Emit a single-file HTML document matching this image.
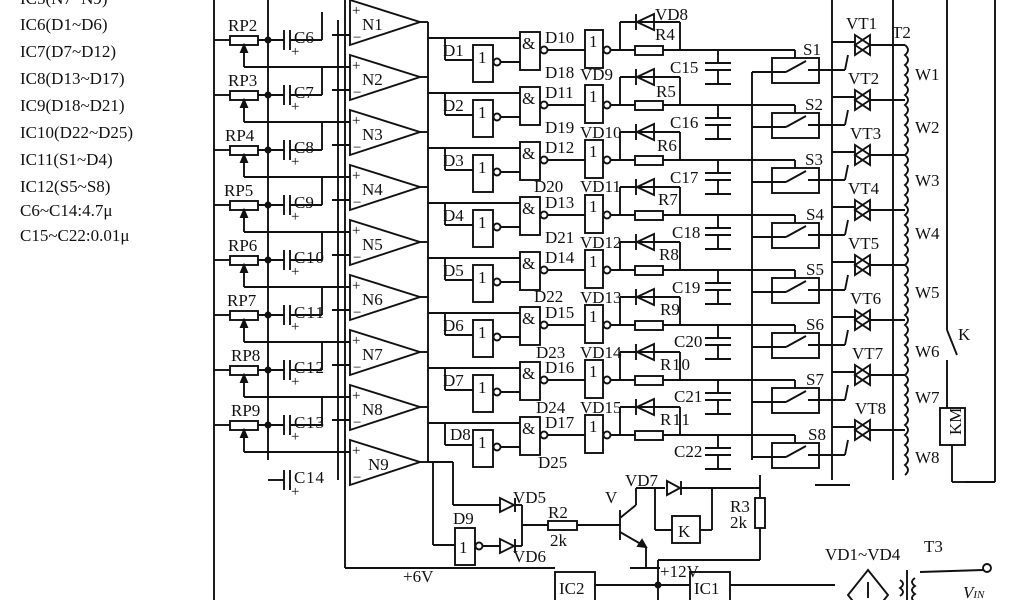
<!DOCTYPE html>
<html><head><meta charset="utf-8"><style>
body{margin:0;background:#fff;width:1024px;height:600px;overflow:hidden}
svg{display:block}
text{font-family:"Liberation Serif",serif;fill:#111;stroke:none}
.l{font-size:17px}
</style></head><body>
<svg width="1024" height="600" viewBox="0 0 1024 600" stroke="#111" stroke-width="1.9" fill="none">
<defs>
<g id="stage">
 <line x1="214" y1="40" x2="230" y2="40"/>
 <rect x="230" y="36" width="28" height="9"/>
 <line x1="258" y1="40" x2="284" y2="40"/>
 <circle cx="268" cy="40" r="2.5" fill="#111"/>
 <line x1="244" y1="60" x2="244" y2="46"/>
 <polygon points="244,45 241,52 247,52" fill="#111"/>
 <line x1="244" y1="60" x2="244" y2="67"/><line x1="244" y1="67" x2="350" y2="67"/>
 <line x1="284" y1="30" x2="284" y2="50"/><line x1="290" y1="30" x2="290" y2="50"/>
 <line x1="290" y1="40" x2="322" y2="40"/><line x1="322" y1="40" x2="322" y2="12"/>
 <line x1="332" y1="35" x2="350" y2="35"/>
 <text x="291" y="56" font-size="15">+</text>
</g>
<g id="amp">
 <polygon points="350,0 350,45 420,22"/>
 <line x1="420" y1="22" x2="428" y2="22"/>
 <text x="352" y="15" font-size="15">+</text><text x="353" y="42" font-size="15">−</text>
</g>
<g id="chan">
 <line x1="428" y1="38" x2="445" y2="38"/><line x1="445" y1="38" x2="445" y2="60"/>
 <line x1="445" y1="38" x2="520" y2="38"/>
 <line x1="445" y1="60" x2="473" y2="60"/>
 <rect x="473" y="45" width="20" height="37"/><text x="478" y="63" font-size="17">1</text>
 <circle cx="497" cy="62" r="3.5"/><line x1="501" y1="62" x2="520" y2="62"/>
 <rect x="520" y="32" width="20" height="38"/><text x="522" y="49" font-size="17">&amp;</text>
 <circle cx="544" cy="50" r="3.5"/><line x1="548" y1="50" x2="585" y2="50"/>
 <rect x="585" y="30" width="18" height="38"/><text x="589" y="47" font-size="17">1</text>
 <circle cx="607" cy="50" r="3.5"/><line x1="611" y1="50" x2="635" y2="50"/>
 <line x1="620" y1="50" x2="620" y2="22"/><line x1="620" y1="22" x2="680" y2="22"/><line x1="680" y1="22" x2="680" y2="50"/>
 <polygon points="637,22 654,14 654,30"/><line x1="636" y1="14" x2="636" y2="30"/>
 <rect x="635" y="46" width="28" height="9"/>
 <line x1="663" y1="50" x2="795" y2="50"/><line x1="795" y1="50" x2="795" y2="58"/>
 <line x1="718" y1="50" x2="718" y2="63"/><line x1="705" y1="63" x2="731" y2="63"/><line x1="705" y1="70" x2="731" y2="70"/><line x1="718" y1="70" x2="718" y2="84"/><line x1="705" y1="84" x2="731" y2="84"/>
 <rect x="772" y="58" width="47" height="25"/>
 <line x1="752" y1="72" x2="786" y2="72"/><line x1="786" y1="72" x2="806" y2="61"/><line x1="808" y1="70" x2="845" y2="70"/>
 <line x1="845" y1="70" x2="848" y2="55"/>
 <line x1="832" y1="42" x2="855" y2="42"/>
 <polygon points="855,35 870,45 855,55" /><polygon points="870,35 855,45 870,55"/>
 <line x1="870" y1="45" x2="905" y2="45"/>
</g>
</defs>

<g class="l">
<text x="20" y="4">IC5(N7~N9)</text>
<text x="20" y="30">IC6(D1~D6)</text>
<text x="20" y="57">IC7(D7~D12)</text>
<text x="20" y="84">IC8(D13~D17)</text>
<text x="20" y="111">IC9(D18~D21)</text>
<text x="20" y="138">IC10(D22~D25)</text>
<text x="20" y="165">IC11(S1~D4)</text>
<text x="20" y="192">IC12(S5~S8)</text>
<text x="20" y="216">C6~C14:4.7μ</text>
<text x="20" y="241">C15~C22:0.01μ</text>
</g>

<line x1="214" y1="0" x2="214" y2="600"/>
<line x1="268" y1="0" x2="268" y2="460"/>
<line x1="338" y1="20" x2="338" y2="480"/>
<line x1="345" y1="0" x2="345" y2="568"/>
<line x1="428" y1="22" x2="428" y2="462"/>
<line x1="752" y1="72" x2="752" y2="460"/>
<line x1="832" y1="0" x2="832" y2="480"/>
<line x1="893" y1="0" x2="893" y2="480"/>
<line x1="947" y1="0" x2="947" y2="330"/>
<line x1="995" y1="0" x2="995" y2="482"/>
<line x1="965" y1="482" x2="995" y2="482"/>
<line x1="815" y1="485" x2="850" y2="485"/>

<use href="#stage"/><use href="#stage" y="55"/><use href="#stage" y="110"/><use href="#stage" y="165"/><use href="#stage" y="220"/><use href="#stage" y="275"/><use href="#stage" y="330"/><use href="#stage" y="385"/>
<line x1="268" y1="480" x2="284" y2="480"/><line x1="284" y1="470" x2="284" y2="490"/><line x1="290" y1="470" x2="290" y2="490"/><text x="291" y="496" font-size="15">+</text>
<use href="#amp"/><use href="#amp" y="55"/><use href="#amp" y="110"/><use href="#amp" y="165"/><use href="#amp" y="220"/><use href="#amp" y="275"/><use href="#amp" y="330"/><use href="#amp" y="385"/><use href="#amp" y="440"/>
<use href="#chan"/><use href="#chan" y="55"/><use href="#chan" y="110"/><use href="#chan" y="165"/><use href="#chan" y="220"/><use href="#chan" y="275"/><use href="#chan" y="330"/><use href="#chan" y="385"/>

<g class="l">
<text x="228" y="31">RP2</text><text x="228" y="86">RP3</text><text x="225" y="141">RP4</text><text x="224" y="196">RP5</text><text x="228" y="251">RP6</text><text x="227" y="306">RP7</text><text x="231" y="361">RP8</text><text x="231" y="416">RP9</text>
<text x="294" y="43">C6</text><text x="294" y="98">C7</text><text x="294" y="153">C8</text><text x="294" y="208">C9</text><text x="294" y="263" textLength="30">C10</text><text x="294" y="318" textLength="30">C11</text><text x="294" y="373" textLength="30">C12</text><text x="294" y="428" textLength="30">C13</text><text x="294" y="483" textLength="30">C14</text>
<text x="362" y="30">N1</text><text x="362" y="85">N2</text><text x="362" y="140">N3</text><text x="362" y="195">N4</text><text x="362" y="250">N5</text><text x="362" y="305">N6</text><text x="362" y="360">N7</text><text x="362" y="415">N8</text><text x="368" y="470">N9</text>
<text x="443" y="56">D1</text><text x="443" y="111">D2</text><text x="443" y="166">D3</text><text x="443" y="221">D4</text><text x="443" y="276">D5</text><text x="443" y="331">D6</text><text x="443" y="386">D7</text><text x="450" y="440">D8</text>
<text x="545" y="43">D10</text><text x="545" y="98">D11</text><text x="545" y="153">D12</text><text x="545" y="208">D13</text><text x="545" y="263">D14</text><text x="545" y="318">D15</text><text x="545" y="373">D16</text><text x="545" y="428">D17</text>
<text x="545" y="78">D18</text><text x="545" y="133">D19</text><text x="534" y="192">D20</text><text x="545" y="243">D21</text><text x="534" y="302">D22</text><text x="536" y="358">D23</text><text x="536" y="413">D24</text><text x="538" y="468">D25</text>
<text x="655" y="20">VD8</text><text x="580" y="80">VD9</text><text x="580" y="138">VD10</text><text x="580" y="192">VD11</text><text x="580" y="248">VD12</text><text x="580" y="303">VD13</text><text x="580" y="358">VD14</text><text x="580" y="413">VD15</text>
<text x="655" y="40">R4</text><text x="656" y="97">R5</text><text x="657" y="151">R6</text><text x="658" y="205">R7</text><text x="659" y="260">R8</text><text x="660" y="315">R9</text><text x="660" y="370" textLength="30">R10</text><text x="660" y="425" textLength="30">R11</text>
<text x="670" y="73">C15</text><text x="670" y="128">C16</text><text x="670" y="183">C17</text><text x="672" y="238">C18</text><text x="672" y="293">C19</text><text x="674" y="347">C20</text><text x="674" y="402">C21</text><text x="674" y="457">C22</text>
<text x="803" y="55">S1</text><text x="805" y="110">S2</text><text x="805" y="165">S3</text><text x="806" y="220">S4</text><text x="806" y="275">S5</text><text x="806" y="330">S6</text><text x="806" y="385">S7</text><text x="808" y="440">S8</text>
<text x="846" y="29">VT1</text><text x="848" y="84">VT2</text><text x="850" y="139">VT3</text><text x="848" y="194">VT4</text><text x="848" y="249">VT5</text><text x="850" y="304">VT6</text><text x="852" y="359">VT7</text><text x="855" y="414">VT8</text>
<text x="892" y="38">T2</text>
<text x="915" y="80">W1</text><text x="915" y="133">W2</text><text x="915" y="186">W3</text><text x="915" y="239">W4</text><text x="915" y="298">W5</text><text x="915" y="357">W6</text><text x="915" y="403">W7</text><text x="915" y="463">W8</text>
<text x="958" y="340">K</text>
</g>

<path d="M905 45 q6 5 0 10 q6 5 0 10 q6 5 0 10 q6 5 0 10 q6 5 0 10 q6 5 0 10 q6 5 0 10 q6 5 0 10 q6 5 0 10 q6 5 0 10 q6 5 0 10 q6 5 0 10 q6 5 0 10 q6 5 0 10 q6 5 0 10 q6 5 0 10 q6 5 0 10 q6 5 0 10 q6 5 0 10 q6 5 0 10 q6 5 0 10 q6 5 0 10 q6 5 0 10 q6 5 0 10 q6 5 0 10 q6 5 0 10 q6 5 0 10 q6 5 0 10 q6 5 0 10 q6 5 0 10 q6 5 0 10 q6 5 0 10 q6 5 0 10 q6 5 0 10 q6 5 0 10 q6 5 0 10 q6 5 0 10 q6 5 0 10 q6 5 0 10 q6 5 0 10 q6 5 0 10 q6 5 0 10 q6 5 0 10"/>
<line x1="947" y1="330" x2="957" y2="355"/><line x1="947" y1="360" x2="947" y2="408"/>
<rect x="940" y="408" width="25" height="37"/><line x1="952" y1="445" x2="952" y2="482"/><line x1="952" y1="482" x2="965" y2="482"/>
<text x="945" y="435" class="l" transform="rotate(-90 953 427)">KM</text>

<line x1="428" y1="462" x2="453" y2="462"/><line x1="453" y1="462" x2="453" y2="505"/><line x1="453" y1="505" x2="500" y2="505"/>
<polygon points="500,498 500,512 514,505"/><line x1="515" y1="498" x2="515" y2="512"/><line x1="515" y1="505" x2="522" y2="505"/>
<line x1="433" y1="462" x2="433" y2="545"/><line x1="433" y1="545" x2="455" y2="545"/>
<rect x="455" y="528" width="20" height="37"/><circle cx="479" cy="546" r="3.5"/><line x1="483" y1="546" x2="500" y2="546"/>
<polygon points="500,539 500,553 514,546"/><line x1="515" y1="539" x2="515" y2="553"/><line x1="515" y1="546" x2="522" y2="546"/>
<line x1="522" y1="505" x2="522" y2="546"/><line x1="522" y1="525" x2="548" y2="525"/>
<rect x="548" y="521" width="29" height="9"/><line x1="577" y1="525" x2="620" y2="525"/>
<line x1="620" y1="510" x2="620" y2="540"/><line x1="620" y1="518" x2="636" y2="505"/><line x1="620" y1="532" x2="646" y2="547"/>
<polygon points="646,547 638,546 642,540" fill="#111"/>
<line x1="646" y1="547" x2="646" y2="568"/><line x1="630" y1="568" x2="660" y2="568"/>
<line x1="636" y1="505" x2="636" y2="488"/><line x1="636" y1="488" x2="665" y2="488"/>
<polygon points="667,481 667,495 680,488"/><line x1="681" y1="481" x2="681" y2="495"/><line x1="681" y1="488" x2="760" y2="488"/>
<line x1="655" y1="488" x2="655" y2="530"/><line x1="655" y1="530" x2="672" y2="530"/>
<rect x="672" y="516" width="28" height="27"/><line x1="700" y1="530" x2="712" y2="530"/><line x1="712" y1="530" x2="712" y2="488"/>
<line x1="760" y1="475" x2="760" y2="498"/><rect x="755" y="498" width="10" height="30"/><line x1="760" y1="528" x2="760" y2="560"/><line x1="760" y1="560" x2="658" y2="560"/><line x1="658" y1="560" x2="658" y2="600"/>
<line x1="345" y1="568" x2="555" y2="568"/>
<rect x="555" y="572" width="40" height="30"/><rect x="690" y="572" width="40" height="30"/>
<line x1="595" y1="585" x2="690" y2="585"/><circle cx="658" cy="585" r="2.5" fill="#111"/>
<line x1="730" y1="585" x2="835" y2="585"/>
<polygon points="868,570 888,595 868,620 848,595"/><line x1="868" y1="582" x2="868" y2="598"/>
<path d="M900 580 q6 4 0 8 q6 4 0 8"/><path d="M915 578 q-6 4 0 8 q-6 4 0 8 q-6 4 0 8"/>
<line x1="907" y1="570" x2="907" y2="600"/><circle cx="987" cy="568" r="4"/><line x1="920" y1="572" x2="983" y2="570"/>
<g class="l">
<text x="513" y="503">VD5</text><text x="513" y="562">VD6</text><text x="453" y="524">D9</text><text x="459" y="553">1</text>
<text x="548" y="518">R2</text><text x="550" y="546">2k</text><text x="605" y="503">V</text><text x="625" y="486">VD7</text>
<text x="678" y="537">K</text><text x="730" y="512">R3</text><text x="730" y="528">2k</text>
<text x="403" y="582">+6V</text><text x="559" y="594">IC2</text><text x="660" y="577">+12V</text><text x="694" y="594">IC1</text>
<text x="825" y="560">VD1~VD4</text><text x="924" y="552">T3</text><text x="963" y="598" font-style="italic">V<tspan font-size="11">IN</tspan></text>
</g>
</svg>
</body></html>
